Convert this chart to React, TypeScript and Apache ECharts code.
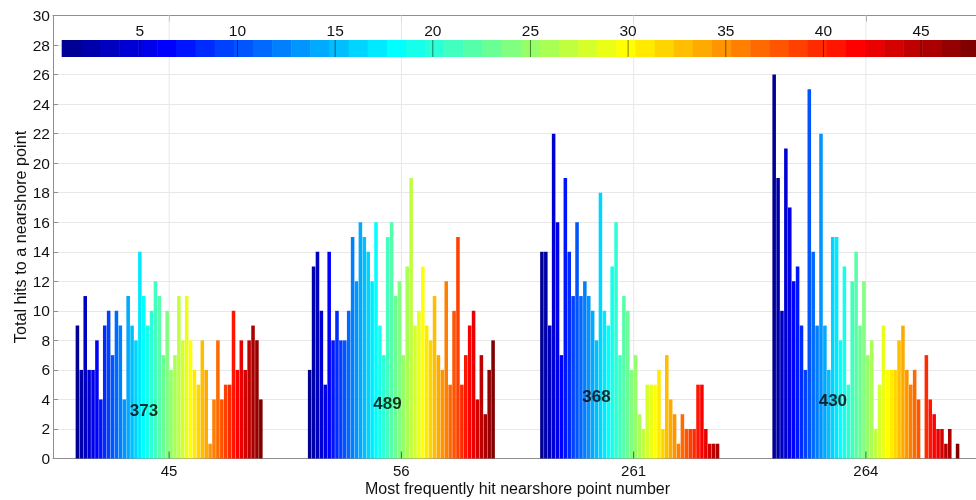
import React, { useEffect, useRef } from "react";
import * as echarts from "echarts";

const categories = ["45", "56", "261", "264"];
const hits45 = [9, 6, 11, 6, 6, 8, 4, 9, 10, 7, 10, 9, 4, 11, 9, 8, 14, 11, 9, 10, 12, 11, 7, 10, 6, 7, 11, 8, 11, 8, 6, 5, 8, 6, 1, 4, 8, 4, 5, 5, 10, 6, 8, 6, 8, 9, 8, 4];
const hits56 = [6, 13, 14, 10, 5, 14, 8, 10, 8, 8, 10, 15, 12, 16, 15, 14, 12, 16, 9, 7, 15, 16, 11, 12, 7, 13, 19, 9, 10, 13, 9, 8, 11, 7, 6, 12, 5, 10, 15, 5, 7, 9, 10, 4, 7, 3, 6, 8];
const hits261 = [14, 14, 9, 22, 16, 7, 19, 14, 11, 16, 11, 12, 11, 10, 8, 18, 10, 9, 13, 16, 7, 11, 10, 6, 7, 3, 2, 5, 5, 5, 6, 2, 7, 4, 3, 1, 3, 2, 2, 2, 5, 5, 2, 1, 1, 1, 0, 0];
const hits264 = [26, 19, 10, 21, 17, 12, 13, 9, 6, 25, 14, 9, 22, 9, 6, 15, 15, 8, 13, 5, 12, 14, 9, 12, 7, 8, 2, 5, 9, 6, 6, 6, 8, 9, 6, 5, 6, 4, 0, 7, 4, 3, 2, 2, 1, 2, 0, 1];
const groups = [hits45, hits56, hits261, hits264];
const yTicks = { min: 0, max: 30, interval: 2 };
const colorbarTicks = [5, 10, 15, 20, 25, 30, 35, 40, 45];
const categoryCenters = [1, 2, 3, 4];
// positions of the total labels (x in category units, y in data units)
const sumLabelX = [0.892, 1.94, 2.84, 3.858];
const sumLabelY = [3.28, 3.72, 4.23, 3.96];

function jet(m: number): string[] {
  const n = Math.ceil(m / 4);
  const u: number[] = [];
  for (let k = 1; k <= n; k++) u.push(k / n);
  for (let k = 1; k <= n - 1; k++) u.push(1);
  for (let k = n; k >= 1; k--) u.push(k / n);
  const g0 = Math.ceil(n / 2) - (m % 4 === 1 ? 1 : 0);
  const rows = Array.from({ length: m }, () => [0, 0, 0]);
  for (let k = 1; k <= u.length; k++) {
    const r = g0 + n + k, g = g0 + k, b = g0 - n + k;
    if (r >= 1 && r <= m) rows[r - 1][0] = u[k - 1];
    if (g >= 1 && g <= m) rows[g - 1][1] = u[k - 1];
    if (b >= 1 && b <= m) rows[b - 1][2] = u[k - 1];
  }
  return rows.map(
    ([r, g, b]) => `rgb(${Math.round(r * 255)},${Math.round(g * 255)},${Math.round(b * 255)})`
  );
}

export default function App() {
  const ref = useRef<HTMLDivElement>(null);
  useEffect(() => {
    document.body.style.margin = "0";
    document.documentElement.style.overflow = "hidden";
    document.body.style.overflow = "hidden";
    const chart = echarts.init(ref.current!, null, { renderer: "svg" });
    const nBars = hits45.length;
    const colors = jet(nBars);
    const font = "'Liberation Sans', Arial, sans-serif";
    const axisGray = "#8f8f8f";

    const barSeries = colors.map((c, i) => ({
      type: "bar",
      name: String(i + 1),
      xAxisIndex: 0,
      yAxisIndex: 0,
      z: 3,
      data: groups.map((g) => g[i]),
      itemStyle: { color: c },
      barGap: "10%",
      barCategoryGap: "19.5%",
      silent: true,
    }));

    const sums = groups.map((g) => g.reduce((a, b) => a + b, 0));

    chart.setOption({
      animation: false,
      textStyle: { fontFamily: font },
      grid: [
        { left: 53, top: 15.5, width: 929, height: 443, outerBoundsMode: "none", containLabel: false },
        { left: 61.7, top: 40, width: 918, height: 17, outerBoundsMode: "none", containLabel: false },
      ],
      xAxis: [
        {
          type: "category",
          gridIndex: 0,
          data: categories,
          position: "bottom",
          axisLine: { lineStyle: { color: axisGray, width: 1 } },
          axisTick: { show: false },
          axisLabel: { fontSize: 15, color: "#111", margin: 4, fontFamily: font },
          splitLine: { show: false },
          name: "Most frequently hit nearshore point number",
          nameLocation: "middle",
          nameGap: 22,
          nameMoveOverlap: false,
          nameTextStyle: { fontSize: 16, color: "#111", fontFamily: font },
        },
        {
          type: "category",
          gridIndex: 0,
          data: categories,
          position: "top",
          axisLine: { lineStyle: { color: axisGray, width: 1 } },
          axisTick: { show: true, inside: true, alignWithLabel: true, length: 6, lineStyle: { color: axisGray } },
          axisLabel: { show: false },
          splitLine: { show: false },
        },
        {
          type: "value",
          gridIndex: 0,
          min: 0.5,
          max: 4.5,
          position: "bottom",
          z: 5,
          axisLine: { show: false },
          axisLabel: { show: false },
          splitLine: { show: false },
          axisTick: { show: false },
        },
        {
          type: "value",
          gridIndex: 1,
          min: 1,
          max: 48,
          position: "top",
          z: 5,
          axisLine: { show: false },
          splitLine: { show: false },
          axisLabel: {
            customValues: colorbarTicks,
            fontSize: 15.5,
            color: "#111",
            margin: 2,
            fontFamily: font,
          },
          axisTick: { show: false },
        },
      ],
      yAxis: [
        {
          type: "value",
          gridIndex: 0,
          min: yTicks.min,
          max: yTicks.max,
          interval: yTicks.interval,
          axisLine: { show: true, lineStyle: { color: axisGray, width: 1 } },
          axisTick: { show: true, inside: true, length: 5, lineStyle: { color: axisGray } },
          axisLabel: { fontSize: 15.5, color: "#111", margin: 3, fontFamily: font },
          splitLine: { show: true, lineStyle: { color: "#e8e8e8", width: 1 } },
          name: "Total hits to a nearshore point",
          nameLocation: "middle",
          nameGap: 25,
          nameMoveOverlap: false,
          nameTextStyle: { fontSize: 16.2, color: "#111", fontFamily: font },
        },
        {
          type: "value",
          gridIndex: 1,
          min: 0,
          max: 1,
          show: false,
        },
      ],
      series: [
        // vertical grid lines at category centres (behind the bars)
        {
          type: "custom",
          xAxisIndex: 2,
          yAxisIndex: 0,
          z: 1,
          silent: true,
          data: categoryCenters,
          renderItem: (params: any, api: any) => {
            const v = api.value(0);
            const a = api.coord([v, yTicks.min]);
            const b = api.coord([v, yTicks.max]);
            return {
              type: "line",
              shape: { x1: a[0], y1: a[1], x2: b[0], y2: b[1] },
              style: { stroke: "#e8e8e8", lineWidth: 1 },
            };
          },
        },
        ...barSeries,
        // small tick marks at category centres, drawn over the bars
        {
          type: "custom",
          xAxisIndex: 2,
          yAxisIndex: 0,
          z: 6,
          silent: true,
          data: categoryCenters,
          renderItem: (params: any, api: any) => {
            const v = api.value(0);
            const a = api.coord([v, yTicks.min]);
            return {
              type: "line",
              shape: { x1: a[0], y1: a[1], x2: a[0], y2: a[1] - 7 },
              style: { stroke: "#4d5d4d", lineWidth: 1 },
            };
          },
        },
        {
          type: "custom",
          xAxisIndex: 3,
          yAxisIndex: 1,
          z: 4,
          silent: true,
          data: colors.map((_, i) => i),
          renderItem: (params: any, api: any) => {
            const i = api.value(0);
            const step = 47 / 48;
            const p0 = api.coord([1 + i * step, 1]);
            const p1 = api.coord([1 + (i + 1) * step, 0]);
            return {
              type: "rect",
              shape: { x: p0[0], y: p0[1], width: p1[0] - p0[0] + 0.5, height: p1[1] - p0[1] },
              style: { fill: colors[i] },
            };
          },
        },
        {
          type: "custom",
          xAxisIndex: 3,
          yAxisIndex: 1,
          z: 5,
          silent: true,
          data: colorbarTicks,
          renderItem: (params: any, api: any) => {
            const v = api.value(0);
            const a = api.coord([v, 0]);
            const b = api.coord([v, 1]);
            return {
              type: "line",
              shape: { x1: a[0], y1: a[1], x2: b[0], y2: b[1] },
              style: { stroke: "rgba(0,0,0,0.5)", lineWidth: 1 },
            };
          },
        },
        {
          type: "scatter",
          xAxisIndex: 2,
          yAxisIndex: 0,
          symbolSize: 1,
          itemStyle: { color: "rgba(0,0,0,0)" },
          z: 10,
          silent: true,
          data: sums.map((s, i) => [sumLabelX[i], sumLabelY[i]]),
          label: {
            show: true,
            position: "inside",
            formatter: (p: any) => String(sums[p.dataIndex]),
            fontSize: 17,
            fontWeight: "bold",
            color: "#000",
            fontFamily: font,
          },
        },
      ],
    });
    return () => chart.dispose();
  }, []);
  return (
    <div
      ref={ref}
      style={{ position: "fixed", left: 0, top: 0, width: 976, height: 500, overflow: "hidden" }}
    />
  );
}
